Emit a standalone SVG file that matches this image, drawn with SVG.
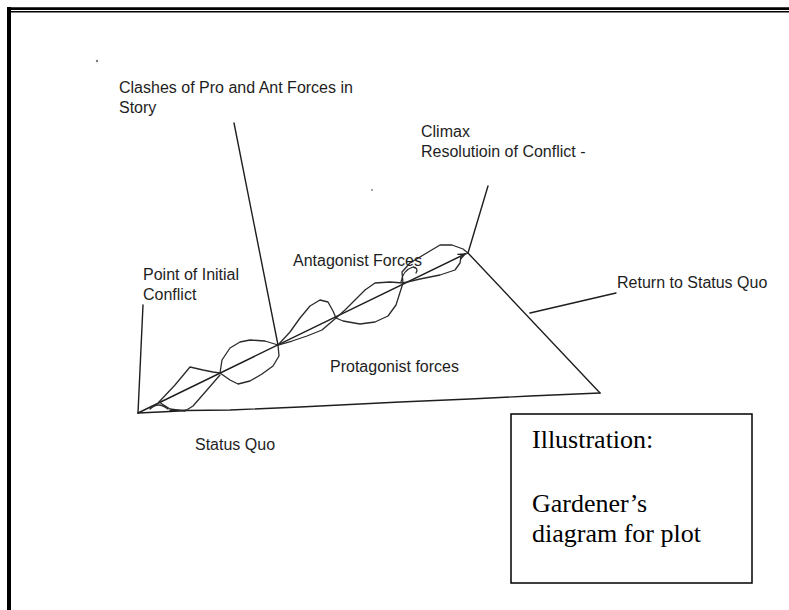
<svg xmlns="http://www.w3.org/2000/svg" width="789" height="610" viewBox="0 0 789 610">
  <style>
    .ln { fill: none; stroke: #1e1e1e; stroke-width: 1.4; stroke-linejoin: round; stroke-linecap: round; }
    .bl { fill: none; stroke: #2a2a2a; stroke-width: 1.3; stroke-linejoin: round; stroke-linecap: round; }
    .lbl { font-family: "Liberation Sans", Arial, sans-serif; font-size: 16px; fill: #1e1e1e; }
    .cap { font-family: "Liberation Serif", "Times New Roman", serif; font-size: 26px; fill: #000; }
  </style>
  <defs>
    <marker id="ah" markerWidth="8" markerHeight="8" refX="7" refY="4" orient="auto" markerUnits="userSpaceOnUse">
      <path d="M0,1 L7,4 L0,7" fill="none" stroke="#1e1e1e" stroke-width="1.3"/>
    </marker>
  </defs>
  <rect width="789" height="610" fill="#ffffff"/>

  <!-- frame -->
  <g id="frame">
    <line x1="9" y1="7" x2="9" y2="610" stroke="#000" stroke-width="4"/>
    <line x1="7" y1="8.6" x2="789" y2="8.6" stroke="#000" stroke-width="2.6"/>
    <line x1="11" y1="11.8" x2="789" y2="11.8" stroke="#000" stroke-width="1.4"/>
  </g>

  <!-- stray dots -->
  <g id="dots">
    <circle cx="97" cy="61" r="1.2" fill="#777"/>
    <circle cx="372" cy="190" r="1" fill="#888"/>
  </g>

  <!-- connectors / plot lines -->
  <g id="connectors">
    <line class="ln" x1="138" y1="413" x2="143" y2="305"/>
    <path class="ln" d="M138,413 L170,411.5 L186,410.5 L230,410 L300,407 L400,402 L470,399 L530,396 L600,393"/>
    <line class="ln" x1="186" y1="410.2" x2="170" y2="410.8" stroke-width="2.6"/>
    <line class="ln" x1="468" y1="253" x2="600" y2="393"/>
    <line class="ln" x1="138" y1="413" x2="465" y2="254" marker-end="url(#ah)"/>
    <line class="ln" x1="468" y1="253" x2="488" y2="186"/>
    <line class="ln" x1="530" y1="313" x2="616" y2="293"/>
    <line class="ln" x1="234" y1="123" x2="278" y2="345"/>
  </g>

  <!-- clash blobs -->
  <g id="blobs">
    <path class="bl" d="M150,409 Q158,401 168,409"/>
    <path class="bl" d="M159,402 L175,385 L190,367 L203,370 L213,372 L220,373"/>
    <path class="bl" d="M159,402 L170,409 L185,411 L193,406 L207,390 L220,375"/>
    <path class="bl" d="M220,373 L222,360 L230,348 L240,342 L250,340 L265,341 L278,345"/>
    <path class="bl" d="M220,373 L230,380 L238,384 L250,381 L262,374 L273,366 L279,356 L278,345"/>
    <path class="bl" d="M278,345 L290,332 L300,318 L310,306 L320,300 L328,302 L333,311 L336,318"/>
    <path class="bl" d="M278,345 L292,341 L307,336 L322,330 L336,318"/>
    <path class="bl" d="M336,318 L345,310 L355,300 L365,290 L375,283 L390,282 L403,283"/>
    <path class="bl" d="M336,318 L343,321 L360,324 L375,322 L388,316 L396,305 L403,283"/>
    <path class="bl" d="M403,283 L402,272 L410,263 L425,254 L440,245 L452,245 L463,249 L468,253"/>
    <path class="bl" d="M403,283 L420,279 L440,275 L455,270 L460,263 L461,256 L468,253"/>
    <path class="bl" d="M401,282 Q403,270 413,267 Q419,268 416,273"/>
  </g>

  <!-- labels -->
  <g id="label-clashes">
    <text class="lbl" x="119" y="93">Clashes of Pro and Ant Forces in</text>
    <text class="lbl" x="119" y="113">Story</text>
  </g>
  <g id="label-climax">
    <text class="lbl" x="421" y="137">Climax</text>
    <text class="lbl" x="421" y="157">Resolutioin of Conflict -</text>
  </g>
  <g id="label-antagonist">
    <text class="lbl" x="293" y="266">Antagonist Forces</text>
  </g>
  <g id="label-initial">
    <text class="lbl" x="143" y="280">Point of Initial</text>
    <text class="lbl" x="143" y="300">Conflict</text>
  </g>
  <g id="label-return">
    <text class="lbl" x="617" y="288">Return to Status Quo</text>
  </g>
  <g id="label-protagonist">
    <text class="lbl" x="330" y="372">Protagonist forces</text>
  </g>
  <g id="label-statusquo">
    <text class="lbl" x="195" y="450">Status Quo</text>
  </g>

  <!-- caption box -->
  <g id="caption">
    <rect x="511" y="414" width="241" height="169" fill="#fff" stroke="#000" stroke-width="1.5"/>
    <text class="cap" x="532" y="448">Illustration:</text>
    <text class="cap" x="532" y="512">Gardener’s</text>
    <text class="cap" x="532" y="542">diagram for plot</text>
  </g>
</svg>
